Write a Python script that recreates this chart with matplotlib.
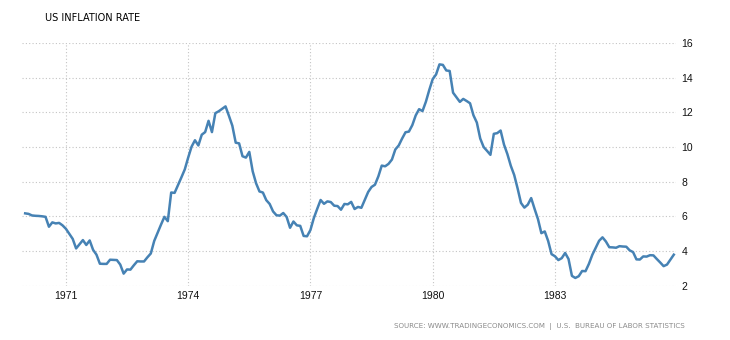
import numpy as np
import matplotlib.pyplot as plt

# monthly year-over-year CPI change, Jan 1970 - Dec 1985
start_year = 1970
inflation = [
    6.18, 6.15, 6.06, 6.04, 6.03, 6.01, 5.98, 5.41, 5.66, 5.60, 5.63, 5.49,   # 1970
    5.29, 5.00, 4.71, 4.16, 4.40, 4.64, 4.36, 4.62, 4.08, 3.80, 3.28, 3.27,   # 1971
    3.27, 3.51, 3.50, 3.49, 3.23, 2.71, 2.95, 2.94, 3.19, 3.42, 3.41, 3.41,   # 1972
    3.65, 3.87, 4.59, 5.06, 5.53, 5.98, 5.73, 7.38, 7.36, 7.80, 8.25, 8.71,   # 1973
    9.39, 10.02, 10.39, 10.09, 10.71, 10.86, 11.51, 10.86, 11.95, 12.06, 12.20, 12.34,  # 1974
    11.80, 11.23, 10.25, 10.21, 9.47, 9.39, 9.72, 8.60, 7.91, 7.44, 7.38, 6.94,  # 1975
    6.72, 6.29, 6.07, 6.05, 6.20, 5.97, 5.35, 5.71, 5.49, 5.46, 4.88, 4.86,   # 1976
    5.22, 5.91, 6.44, 6.95, 6.73, 6.87, 6.83, 6.62, 6.60, 6.39, 6.72, 6.70,   # 1977
    6.84, 6.43, 6.55, 6.50, 6.96, 7.41, 7.70, 7.83, 8.31, 8.93, 8.89, 9.03,   # 1978
    9.28, 9.86, 10.09, 10.49, 10.85, 10.89, 11.26, 11.82, 12.18, 12.07, 12.61, 13.29,  # 1979
    13.91, 14.18, 14.76, 14.73, 14.41, 14.38, 13.13, 12.87, 12.60, 12.77, 12.65, 12.52,  # 1980
    11.83, 11.41, 10.49, 10.00, 9.78, 9.55, 10.76, 10.80, 10.95, 10.14, 9.59, 8.92,  # 1981
    8.39, 7.62, 6.78, 6.51, 6.68, 7.06, 6.44, 5.85, 5.04, 5.14, 4.59, 3.83,   # 1982
    3.71, 3.49, 3.60, 3.90, 3.55, 2.58, 2.46, 2.56, 2.86, 2.85, 3.27, 3.79,   # 1983
    4.19, 4.60, 4.80, 4.56, 4.23, 4.22, 4.20, 4.29, 4.27, 4.26, 4.05, 3.95,   # 1984
    3.53, 3.52, 3.70, 3.69, 3.77, 3.76, 3.55, 3.35, 3.14, 3.23, 3.51, 3.80,   # 1985
]
year_ticks = [1971, 1974, 1977, 1980, 1983]
value_ticks = [2, 4, 6, 8, 10, 12, 14, 16]

t = start_year + np.arange(len(inflation)) / 12.0

fig = plt.figure(figsize=(7.3, 3.4), dpi=100)
ax = fig.add_axes([0.030, 0.159, 0.896, 0.715])

ax.plot(t, inflation, color="#4682b4", lw=1.8, solid_joinstyle="round")

ax.set_xlim(1969.92, 1985.97)
ax.set_ylim(2, 16)
ax.set_xticks(year_ticks)
ax.set_yticks(value_ticks)
ax.yaxis.tick_right()
ax.tick_params(length=0, labelsize=7.5, labelcolor="#111111", pad=4)
for lab in ax.get_xticklabels() + ax.get_yticklabels():
    lab.set_family("Liberation Sans")

ax.grid(True, color="#c4c4c4", linestyle=(0, (1, 2)), lw=0.8)
for s in ax.spines.values():
    s.set_visible(False)

fig.text(45 / 730, 1 - 18 / 340, "US INFLATION RATE", fontsize=7.0,
         family="DejaVu Sans", color="#000000", va="center", ha="left")
fig.text(685 / 730, 1 - 326 / 340,
         "SOURCE: WWW.TRADINGECONOMICS.COM  |  U.S.  BUREAU OF LABOR STATISTICS",
         fontsize=5.1, family="DejaVu Sans", color="#8a8a8a", va="center", ha="right")

fig.savefig("out.png", dpi=100)
